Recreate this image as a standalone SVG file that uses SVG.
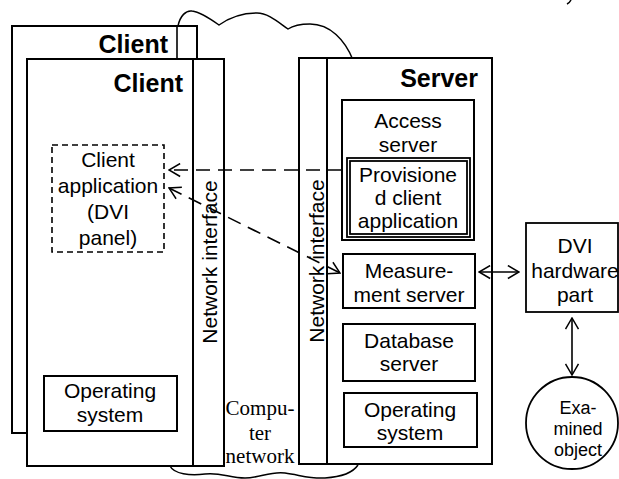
<svg xmlns="http://www.w3.org/2000/svg" width="619" height="479" viewBox="0 0 619 479">
<defs>
<style>
.box{fill:#fff;stroke:#000;stroke-width:2}
.thin{fill:#fff;stroke:#000;stroke-width:1.8}
.cloud{fill:none;stroke:#000;stroke-width:1.5}
.dash{fill:none;stroke:#000;stroke-width:1.6;stroke-dasharray:14,8}
.line{fill:none;stroke:#000;stroke-width:1.6}
.t{font-family:"Liberation Sans",Arial,sans-serif;font-size:21px;text-anchor:middle;fill:#000}
.b{font-family:"Liberation Sans",Arial,sans-serif;font-size:25px;font-weight:bold;text-anchor:end;fill:#000}
.s{font-family:"Liberation Serif","Times New Roman",serif;font-size:21px;text-anchor:middle;fill:#000}
.c{font-family:"Liberation Sans",Arial,sans-serif;font-size:18px;text-anchor:middle;fill:#000}
</style>
<marker id="arr" viewBox="0 0 14 16" refX="13" refY="8" markerWidth="13" markerHeight="15" markerUnits="userSpaceOnUse" orient="auto-start-reverse">
<path d="M1,1 L13,8 L1,15" fill="none" stroke="#000" stroke-width="1.6"/>
</marker>
</defs>
<rect width="619" height="479" fill="#fff"/>
<g id="cloud">
<path class="cloud" d="M178,26 C180,16 186,10 192,11 C200,12 212,20 219,25 C226,20 240,13 257,13 C268,13 278,22 288,29 C294,25 300,24 310,24 C330,24 345,40 353,60"/>
<path class="cloud" d="M170,466 C174,474 190,476 205,474 C220,472 230,478 245,478 C260,478 270,471 285,473 C300,475 310,479 325,478 C340,477 352,474 358,465"/>
<path class="cloud" d="M571,0 C570,2 569,3 567,4"/>
</g>
<g id="client-back">
<rect class="box" x="12" y="26" width="185" height="407"/>
<line class="line" x1="177" y1="26" x2="177" y2="60" stroke-width="2"/>
<text class="b" x="168" y="53">Client</text>
</g>
<g id="client-front">
<rect class="box" x="27" y="59" width="166" height="407"/>
<rect class="box" x="193" y="59" width="31" height="407"/>
<text class="b" x="183" y="92">Client</text>
<text class="t" transform="translate(217,262) rotate(-90)">Network interface</text>
</g>
<g id="client-app">
<rect x="52" y="145" width="112" height="107" fill="#fff" stroke="#000" stroke-width="1.6" stroke-dasharray="6,4"/>
<text class="t" x="108" y="167">Client</text>
<text class="t" x="108" y="193">application</text>
<text class="t" x="108" y="219">(DVI</text>
<text class="t" x="108" y="245">panel)</text>
</g>
<g id="client-os">
<rect class="box" x="44" y="376" width="133" height="55"/>
<text class="t" x="110" y="398">Operating</text>
<text class="t" x="110" y="422">system</text>
</g>
<g id="network-label">
<text class="s" x="260" y="415">Compu-</text>
<text class="s" x="260" y="440">ter</text>
<text class="s" x="260" y="463">network</text>
</g>
<g id="server">
<rect class="box" x="299" y="58" width="28" height="406"/>
<rect class="box" x="327" y="58" width="165" height="406"/>
<text class="b" x="478" y="87">Server</text>
<text class="t" transform="translate(324,261) rotate(-90)">Network interface</text>
</g>
<g id="access-server">
<rect class="box" x="342" y="100" width="132" height="140"/>
<text class="t" x="408" y="128">Access</text>
<text class="t" x="408" y="152">server</text>
</g>
<g id="provisioned-app">
<rect class="thin" x="347" y="158" width="123" height="79"/>
<rect class="thin" x="350" y="161" width="117" height="73"/>
<text class="t" x="408" y="182">Provisione</text>
<text class="t" x="408" y="205">d client</text>
<text class="t" x="408" y="228">application</text>
</g>
<g id="measurement-server">
<rect class="box" x="343" y="254" width="132" height="54"/>
<text class="t" x="409" y="278">Measure-</text>
<text class="t" x="409" y="302">ment server</text>
</g>
<g id="database-server">
<rect class="box" x="343" y="324" width="132" height="57"/>
<text class="t" x="409" y="348">Database</text>
<text class="t" x="409" y="371">server</text>
</g>
<g id="server-os">
<rect class="box" x="344" y="393" width="133" height="54"/>
<text class="t" x="410" y="417">Operating</text>
<text class="t" x="410" y="440">system</text>
</g>
<g id="dvi-hardware">
<rect class="thin" x="526" y="223" width="92" height="89"/>
<text class="t" x="575" y="253">DVI</text>
<text class="t" x="575" y="278">hardware</text>
<text class="t" x="575" y="302">part</text>
</g>
<g id="examined-object">
<circle class="thin" cx="572" cy="423" r="46"/>
<text class="c" x="578" y="414">Exa-</text>
<text class="c" x="578" y="435">mined</text>
<text class="c" x="578" y="456">object</text>
</g>
<g id="connectors">
<line class="dash" x1="342" y1="170" x2="169" y2="170" marker-end="url(#arr)"/>
<line class="dash" x1="169" y1="188" x2="340" y2="273" marker-start="url(#arr)" marker-end="url(#arr)"/>
<line class="line" x1="479" y1="272" x2="519" y2="272" marker-start="url(#arr)" marker-end="url(#arr)"/>
<line class="line" x1="572" y1="318" x2="572" y2="375" marker-start="url(#arr)" marker-end="url(#arr)"/>
</g>
</svg>
